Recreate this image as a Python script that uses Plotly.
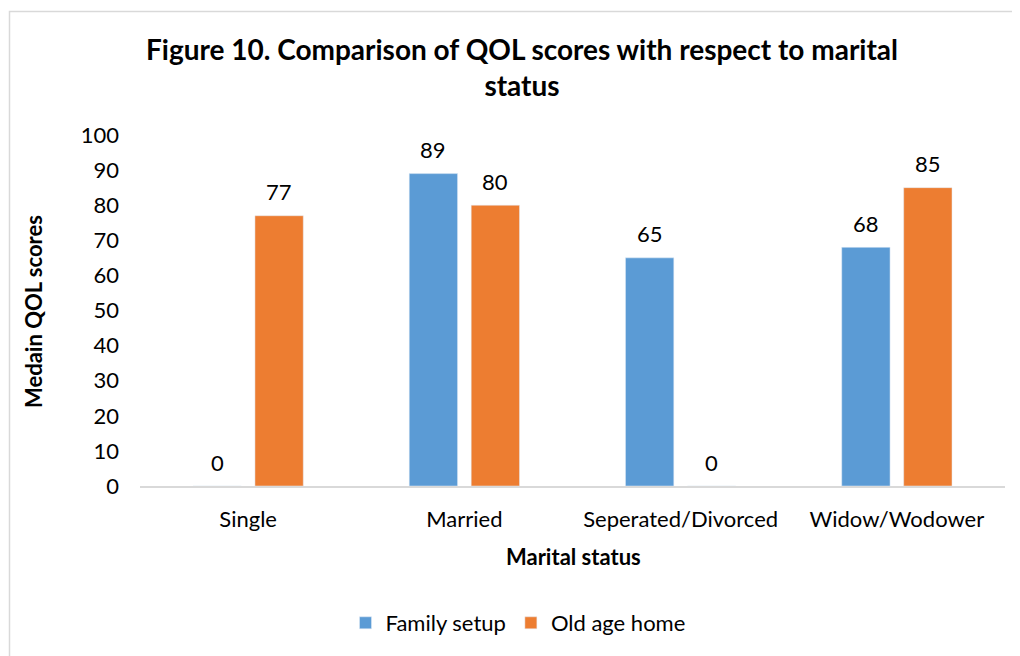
import plotly.graph_objects as go

categories = ["Single", "Married", "Seperated/Divorced", "Widow/Wodower"]
family_setup = [0, 89, 65, 68]
old_age_home = [77, 80, 0, 85]
y_ticks = [0, 10, 20, 30, 40, 50, 60, 70, 80, 90, 100]
series_names = ["Family setup", "Old age home"]
series_colors = ["#5B9BD5", "#ED7D31"]

FONT = "Lato, 'Open Sans', sans-serif"
TXT = 22

W, H = 1012, 648
L, R, T, B = 132, 15, 127, 170
pw, ph = W - L - R, H - T - B


def px_x(p):
    return (p - L) / pw


def px_y(p):
    return (H - B - p) / ph


fig = go.Figure()
for name, vals, col in zip(series_names, [family_setup, old_age_home], series_colors):
    fig.add_trace(go.Bar(name=name, x=categories, y=vals, marker_color=col))

# data labels above each bar (placed from data values)
annotations = []
for shift, vals in zip([-31, 31], [family_setup, old_age_home]):
    for c, v in zip(categories, vals):
        annotations.append(dict(
            x=c, y=v, xref="x", yref="y", text=str(v), showarrow=False,
            xshift=shift, yshift=24, yanchor="middle",
            font=dict(size=TXT, family=FONT, color="#000000"),
        ))

annotations.append(dict(
    text="<b>Marital status</b>", xref="paper", yref="paper",
    x=px_x(565), y=px_y(548), showarrow=False, xanchor="center", yanchor="middle",
    font=dict(size=TXT, family=FONT, color="#000000"),
))
annotations.append(dict(
    text="<b>Medain QOL scores</b>", xref="paper", yref="paper",
    x=px_x(25), y=px_y(304), showarrow=False, xanchor="center", yanchor="middle",
    textangle=-90, font=dict(size=TXT, family=FONT, color="#000000"),
))

fig.update_layout(
    width=W, height=H,
    margin=dict(l=L, r=R, t=T, b=B),
    paper_bgcolor="white", plot_bgcolor="white",
    font=dict(family=FONT, size=TXT, color="#000000"),
    barmode="group", bargap=0.427, bargroupgap=0.22,
    showlegend=True,
    title=dict(
        text="<b>Figure 10. Comparison of QOL scores with respect to marital<br>status</b>",
        x=514 / W, xanchor="center", xref="container",
        y=1 - 52 / H, yanchor="middle", yref="container",
        font=dict(size=28, family=FONT, color="#000000"),
    ),
    xaxis=dict(
        showgrid=False, showline=True, linecolor="#D9D9D9", linewidth=2,
        ticks="", tickfont=dict(size=TXT), ticklabelstandoff=13,
    ),
    yaxis=dict(
        range=[0, 100], tickvals=y_ticks, showgrid=False, zeroline=False,
        showline=False, ticks="", tickfont=dict(size=TXT), ticklabelstandoff=20,
    ),
    legend=dict(
        orientation="h", x=px_x(510), xanchor="center", y=px_y(615), yanchor="middle",
        font=dict(size=TXT), itemwidth=30, traceorder="normal",
    ),
    annotations=annotations,
    shapes=[dict(
        type="rect", xref="paper", yref="paper",
        x0=px_x(1.5), x1=px_x(1008), y0=px_y(700), y1=px_y(3.5),
        line=dict(color="#D9D9D9", width=1.5), fillcolor="rgba(0,0,0,0)", layer="below",
    )],
)

fig.write_html("out.html")
